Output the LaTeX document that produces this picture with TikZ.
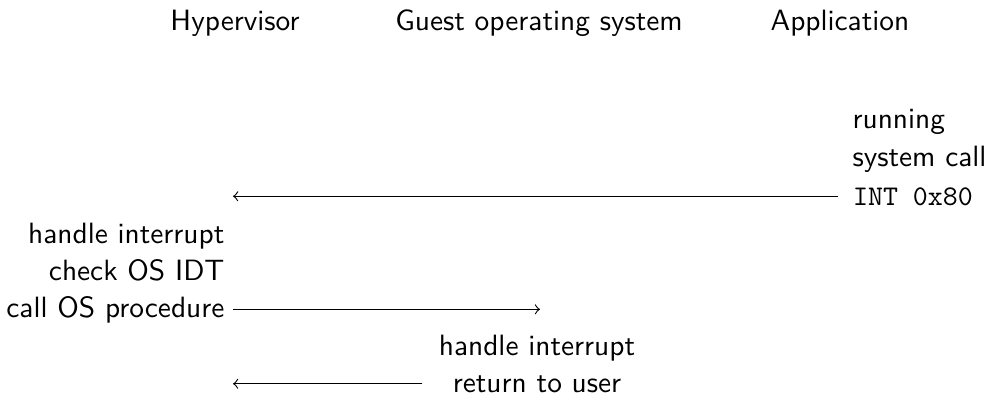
\documentclass[tikz,border=0pt]{standalone}
\begin{document}
\begin{tikzpicture}[x=0.3509pt, y=-0.3509pt,
  font=\sffamily\fontsize{10.3}{12.4}\selectfont,
  lbl/.style={inner sep=0pt, anchor=base},
  msg/.style={->, line width=0.4pt}]
\useasboundingbox (0,0) rectangle (985,396);

% column headings
\node[lbl] (hyp) at (235,30) {Hypervisor};
\node[lbl] (gos) at (539,30) {Guest operating system};
\node[lbl] (app) at (840,30) {Application};

% lanes the messages run to
\coordinate (hcol) at (233,60);
\coordinate (gcol) at (540,60);

% application
\node[lbl, anchor=base west] (run) at (852,128) {running};
\node[lbl, anchor=base west] (sys) at (852,166) {system call};
\node[lbl, anchor=base west, inner xsep=5.1pt, font=\ttfamily] (int) at (838,205) {INT 0x80};

% hypervisor
\node[lbl, anchor=base east] (hi1) at (225,243) {handle interrupt};
\node[lbl, anchor=base east] (idt) at (225,280) {check OS IDT};
\node[lbl, anchor=base east, inner xsep=2.8pt] (call) at (233,317) {call OS procedure};

% guest operating system
\node[lbl] (hi2) at (537,355) {handle interrupt};
\node[lbl, inner xsep=10.5pt] (ret) at (537,392) {return to user};

% messages
\draw[msg] (int.west) -- (int.west -| hcol);
\draw[msg] (call.east) -- (call.east -| gcol);
\draw[msg] (ret.west) -- (ret.west -| hcol);
\end{tikzpicture}
\end{document}
